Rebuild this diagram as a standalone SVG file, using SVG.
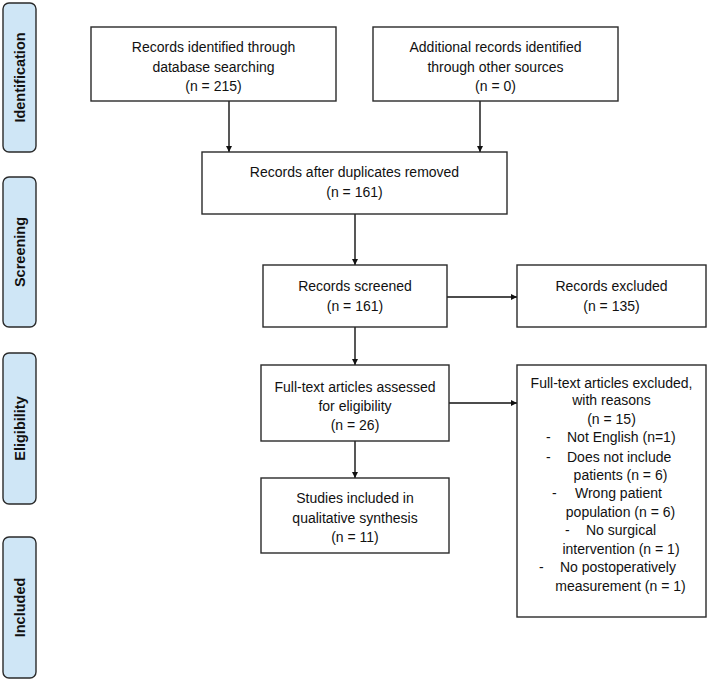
<svg xmlns="http://www.w3.org/2000/svg" width="709" height="682" viewBox="0 0 709 682">
<style>
.box{fill:#fff;stroke:#2a2a2a;stroke-width:1.4}
.side{fill:#cfe6f6;stroke:#2a2a2a;stroke-width:1.4}
.t{font-family:"Liberation Sans",Arial,sans-serif;font-size:14px;fill:#111;text-anchor:middle}
.tl{font-family:"Liberation Sans",Arial,sans-serif;font-size:14px;fill:#111;text-anchor:start}
.s{font-family:"Liberation Sans",Arial,sans-serif;font-size:14.5px;font-weight:bold;fill:#111;text-anchor:middle}
.c{stroke:#111;stroke-width:1.4;fill:none;marker-end:url(#ah)}
</style>
<defs>
<marker id="ah" viewBox="0 0 10 10" refX="10" refY="5" markerWidth="6" markerHeight="6" markerUnits="userSpaceOnUse" orient="auto">
<path d="M0,0 L10,5 L0,10 z" fill="#111"/>
</marker>
</defs>
<rect width="709" height="682" fill="#fff"/>
<g id="side-identification"><rect class="side" x="3" y="3" width="33" height="149" rx="6"/><text class="s" transform="translate(25,77.5) rotate(-90)">Identification</text></g>
<g id="side-screening"><rect class="side" x="3" y="177" width="33" height="150" rx="6"/><text class="s" transform="translate(25,252) rotate(-90)">Screening</text></g>
<g id="side-eligibility"><rect class="side" x="3" y="353" width="33" height="151" rx="6"/><text class="s" transform="translate(25,428.5) rotate(-90)">Eligibility</text></g>
<g id="side-included"><rect class="side" x="3" y="537" width="33" height="141" rx="6"/><text class="s" transform="translate(25,607.5) rotate(-90)">Included</text></g>

<g id="connectors">
<line class="c" x1="229" y1="101" x2="229" y2="152"/>
<line class="c" x1="480" y1="101" x2="480" y2="152"/>
<line class="c" x1="355" y1="214" x2="355" y2="265"/>
<line class="c" x1="447" y1="297" x2="517" y2="297"/>
<line class="c" x1="355" y1="327" x2="355" y2="365"/>
<line class="c" x1="449" y1="403" x2="517" y2="403"/>
<line class="c" x1="355" y1="441" x2="355" y2="478"/>
</g>

<g id="n1"><rect class="box" x="91" y="27" width="245" height="74"/>
<text class="t" x="213.5" y="52">Records identified through</text>
<text class="t" x="213.5" y="72">database searching</text>
<text class="t" x="213.5" y="91">(n = 215)</text></g>
<g id="n2"><rect class="box" x="373" y="27" width="245" height="74"/>
<text class="t" x="495.5" y="52">Additional records identified</text>
<text class="t" x="495.5" y="72">through other sources</text>
<text class="t" x="495.5" y="91">(n = 0)</text></g>
<g id="n3"><rect class="box" x="202" y="152" width="305" height="62"/>
<text class="t" x="354.5" y="177">Records after duplicates removed</text>
<text class="t" x="354.5" y="197">(n = 161)</text></g>
<g id="n4"><rect class="box" x="263" y="265" width="184" height="62"/>
<text class="t" x="355" y="291">Records screened</text>
<text class="t" x="355" y="311">(n = 161)</text></g>
<g id="n5"><rect class="box" x="517" y="265" width="189" height="62"/>
<text class="t" x="611.5" y="291">Records excluded</text>
<text class="t" x="611.5" y="311">(n = 135)</text></g>
<g id="n6"><rect class="box" x="261" y="365" width="188" height="76"/>
<text class="t" x="355" y="392">Full-text articles assessed</text>
<text class="t" x="355" y="411">for eligibility</text>
<text class="t" x="355" y="430">(n = 26)</text></g>
<g id="n7"><rect class="box" x="517" y="365" width="189" height="252"/>
<text class="t" x="611.5" y="388">Full-text articles excluded,</text>
<text class="t" x="611.5" y="405">with reasons</text>
<text class="t" x="611.5" y="424">(n = 15)</text>
<text class="tl" x="546" y="442">-</text><text class="tl" x="567" y="442">Not English (n=1)</text>
<text class="tl" x="546" y="462">-</text><text class="tl" x="567" y="462">Does not include</text>
<text class="t" x="620.5" y="480">patients (n = 6)</text>
<text class="tl" x="552" y="498">-</text><text class="tl" x="575" y="498">Wrong patient</text>
<text class="t" x="620.5" y="517">population (n = 6)</text>
<text class="tl" x="565" y="535">-</text><text class="tl" x="586" y="535">No surgical</text>
<text class="t" x="621" y="554">intervention (n = 1)</text>
<text class="tl" x="539" y="572">-</text><text class="tl" x="560" y="572">No postoperatively</text>
<text class="t" x="620.5" y="591">measurement (n = 1)</text></g>
<g id="n8"><rect class="box" x="261" y="478" width="188" height="75"/>
<text class="t" x="355" y="503">Studies included in</text>
<text class="t" x="355" y="523">qualitative synthesis</text>
<text class="t" x="355" y="542">(n = 11)</text></g>
</svg>
